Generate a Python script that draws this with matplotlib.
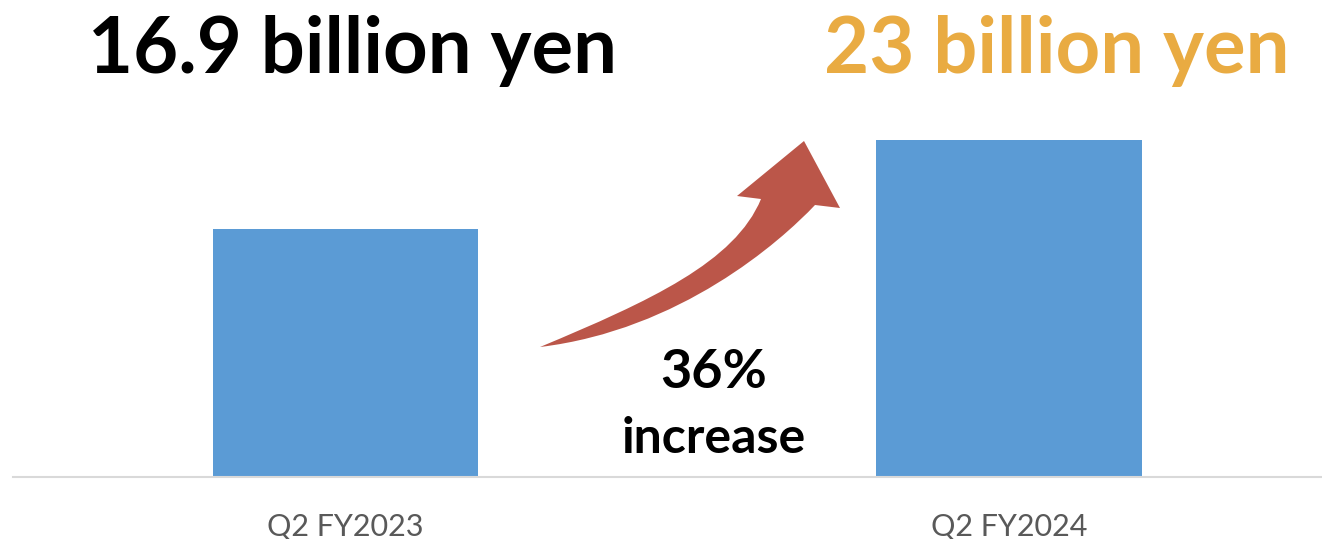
import matplotlib
matplotlib.use("Agg")
import matplotlib.pyplot as plt
from matplotlib.path import Path
from matplotlib.patches import PathPatch
import matplotlib.transforms as mtransforms

categories = ["Q2 FY2023", "Q2 FY2024"]
values = [16.9, 23.0]
value_labels = ["16.9 billion yen", "23 billion yen"]
growth_label = "36%"
growth_word = "increase"

W, H = 1322, 539
fig = plt.figure(figsize=(W / 100, H / 100), dpi=100)

# pixel coords measured from top-left of the image
px = mtransforms.Affine2D().scale(1 / W, -1 / H).translate(0, 1) + fig.transFigure

ax = fig.add_axes([13 / W, 62.5 / H, 1 - 13 / W, 365.8 / H])
ax.bar(range(len(values)), values, width=0.4, color="#5B9BD5")
ax.set_xlim(-0.501, 1.472)
ax.set_ylim(0, 25)
for s in ["top", "right", "left"]:
    ax.spines[s].set_visible(False)
ax.spines["bottom"].set_color("#D9D9D9")
ax.spines["bottom"].set_linewidth(1.5)
ax.set_yticks([])
ax.set_xticks(range(len(categories)))
ax.set_xticklabels(categories, fontsize=22, color="#595959", family="Lato")
ax.tick_params(axis="x", length=0, pad=26)

# headline values
fig.text(88, 73, value_labels[0], transform=px, fontsize=56, fontweight="bold",
         family="Lato", color="black", ha="left", va="baseline")
fig.text(1289, 73, value_labels[1], transform=px, fontsize=56, fontweight="bold",
         family="Lato", color="#E9AB42", ha="right", va="baseline")

# growth note
fig.text(714, 388, growth_label, transform=px, fontsize=39, fontweight="bold",
         family="Lato", ha="center", va="baseline")
fig.text(714, 453, growth_word, transform=px, fontsize=36, fontweight="bold",
         family="Lato", ha="center", va="baseline")

# curved arrow
verts = [(540, 347),
         (680, 330), (780, 242), (815, 205),
         (840, 208), (804, 141), (737, 196), (761, 199),
         (735, 262), (650, 301), (540, 347),
         (540, 347)]
codes = [Path.MOVETO,
         Path.CURVE4, Path.CURVE4, Path.CURVE4,
         Path.LINETO, Path.LINETO, Path.LINETO, Path.LINETO,
         Path.CURVE4, Path.CURVE4, Path.CURVE4,
         Path.CLOSEPOLY]
arrow = PathPatch(Path(verts, codes), transform=px, facecolor="#BB5649",
                  edgecolor="none")
fig.add_artist(arrow)

fig.savefig("out.png", dpi=100)
